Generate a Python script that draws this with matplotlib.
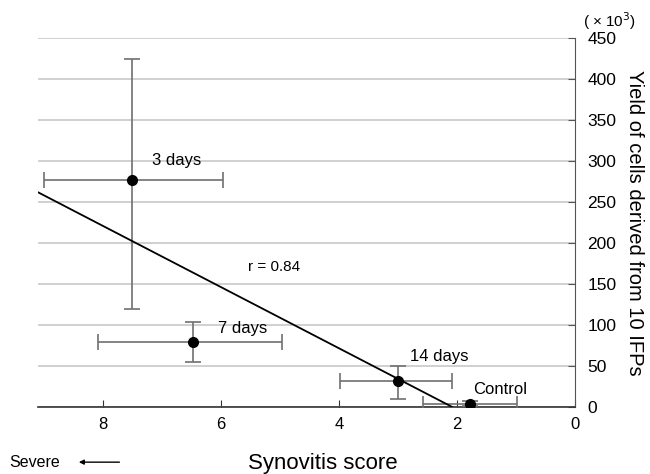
import matplotlib
matplotlib.use("Agg")
import matplotlib.pyplot as plt

plt.rcParams['font.family'] = ['Liberation Sans', 'DejaVu Sans']

# data
groups = ['3 days', '7 days', '14 days', 'Control']
score = [7.5, 6.47, 3.0, 1.78]
score_lo = [9.04, 7.98, 3.92, 2.58]
score_hi = [6.0, 4.85, 2.02, 0.98]
yield_k = [277, 79, 32, 4]
yield_lo = [119, 55, 10, 1]
yield_hi = [425, 104, 50, 7]

# regression line ends
fit_x = [9.1, 2.08]
fit_y = [262, 0]

# label anchors (left edge, vertical centre)
label_x = [7.17, 6.05, 2.8, 1.73]
label_y = [301, 96, 62, 21]

xerr = [[abs(s - lo) for s, lo in zip(score, score_lo)],
        [abs(hi - s) for s, hi in zip(score, score_hi)]]
yerr = [[y - lo for y, lo in zip(yield_k, yield_lo)],
        [hi - y for y, hi in zip(yield_k, yield_hi)]]

fig = plt.figure(figsize=(6.5, 4.74), dpi=100)
ax = fig.add_axes([0.0585, 0.1414, 0.826, 0.778])

ax.set_xlim(9.1, 0)
ax.set_ylim(0, 450)
ax.set_yticks(range(0, 451, 50))
ax.set_xticks([8, 6, 4, 2, 0])
ax.yaxis.grid(True, color='#c4c4c4', linewidth=1.1)
ax.set_axisbelow(True)

ax.errorbar(score, yield_k, xerr=xerr, yerr=yerr, fmt='o', color='black',
            ecolor='#707070', elinewidth=1.2, capsize=6, capthick=1.2,
            markersize=7, zorder=3)
ax.plot(fit_x, fit_y, color='black', linewidth=1.3, zorder=4)

for g, lx, ly in zip(groups, label_x, label_y):
    ax.text(lx, ly, g, fontsize=12, ha='left', va='center')
ax.text(5.54, 171, 'r = 0.84', fontsize=11, ha='left', va='center')

for side in ['left', 'top']:
    ax.spines[side].set_visible(False)
ax.spines['right'].set_color('#555555')
ax.spines['bottom'].set_color('#333333')
ax.spines['bottom'].set_linewidth(1.2)

ax.yaxis.tick_right()
ax.tick_params(axis='y', direction='in', length=5, pad=9, labelsize=12.5,
               color='#555555')
ax.tick_params(axis='x', direction='in', length=5, pad=7, labelsize=12,
               color='#333333')

ax.yaxis.set_label_position('right')
ax.set_ylabel('Yield of cells derived from 10 IFPs', fontsize=14.5,
              rotation=270, labelpad=20)
ax.text(1.015, 1.045, '( × 10$^3$)', transform=ax.transAxes, fontsize=11,
        ha='left', va='center')

fig.text(0.496, 0.023, 'Synovitis score', fontsize=16, ha='center', va='center')
fig.text(0.015, 0.025, 'Severe', fontsize=11.5, ha='left', va='center')
fig.add_artist(matplotlib.patches.FancyArrowPatch(
    (0.188, 0.025), (0.117, 0.025), transform=fig.transFigure,
    arrowstyle='-|>', mutation_scale=7, color='black', linewidth=1))

fig.savefig('out.png', dpi=100)
